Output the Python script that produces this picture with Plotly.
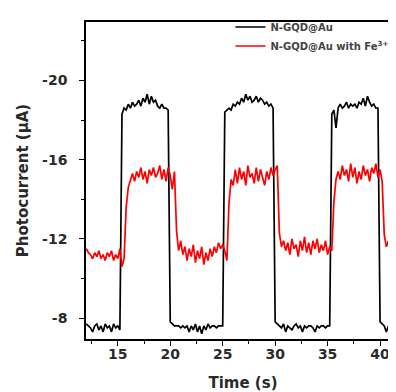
import plotly.graph_objects as go

# time grid (s), step 0.2 s from 12.0 to 41.8
time_s = [round(12.0 + 0.2 * i, 1) for i in range(150)]

# N-GQD@Au photocurrent (uA)
black_vals = (
    # 12.0 - 15.2 dark
    [-7.7, -7.6, -7.5, -7.3, -7.6, -7.7, -7.4, -7.6, -7.3, -7.7, -7.5, -7.6, -7.3, -7.7, -7.5, -7.6, -7.4]
    # 15.4 - 19.8 light on
    + [-18.3, -18.6, -18.5, -18.8, -18.6, -18.9, -18.7, -18.8, -19.0, -18.7, -19.1, -18.9, -19.3, -18.8,
       -19.2, -18.9, -19.0, -18.7, -18.6, -18.8, -18.6, -18.6, -18.5]
    # 20.0 - 25.0 dark
    + [-7.8, -7.7, -7.6, -7.6, -7.6, -7.5, -7.6, -7.5, -7.6, -7.3, -7.6, -7.4, -7.7, -7.3, -7.6, -7.2,
       -7.6, -7.4, -7.7, -7.5, -7.6, -7.6, -7.5, -7.6, -7.6, -7.6]
    # 25.2 - 29.8 light on
    + [-18.4, -18.5, -18.6, -18.5, -18.8, -18.7, -18.9, -18.8, -19.1, -18.9, -19.3, -19.0, -19.2, -18.9,
       -19.0, -19.2, -18.9, -19.1, -19.0, -18.8, -18.9, -18.7, -18.8, -18.6]
    # 30.0 - 35.2 dark
    + [-7.8, -7.7, -7.6, -7.5, -7.7, -7.3, -7.6, -7.5, -7.4, -7.6, -7.7, -7.5, -7.6, -7.3, -7.6, -7.5,
       -7.6, -7.6, -7.5, -7.3, -7.6, -7.5, -7.6, -7.6, -7.5, -7.6, -7.6]
    # 35.4 - 39.8 light on
    + [-18.3, -18.5, -17.6, -18.6, -18.8, -18.6, -18.7, -18.9, -18.6, -18.8, -18.7, -18.8, -18.6, -18.9,
       -18.8, -19.1, -18.7, -19.2, -18.9, -18.7, -18.8, -18.6, -18.6]
    # 40.0 - 41.8 dark
    + [-7.8, -7.7, -7.6, -7.3, -7.6, -7.5, -7.6, -7.5, -7.6, -7.6]
)

# N-GQD@Au with Fe3+ photocurrent (uA)
red_vals = (
    # 12.0 - 15.6 dark
    [-11.5, -11.3, -11.2, -11.0, -11.3, -11.1, -11.4, -11.0, -11.2, -10.9, -11.3, -11.1, -11.4, -10.9,
     -11.2, -11.0, -11.5, -10.6, -11.0]
    # 15.8 - 20.4 light on
    + [-13.6, -14.6, -15.0, -15.3, -14.9, -15.4, -15.1, -15.6, -15.0, -15.4, -14.8, -15.5, -15.2, -15.6,
       -15.1, -15.3, -15.7, -15.0, -15.5, -14.9, -15.6, -15.2, -14.5, -15.4]
    # 20.6 - 25.4 dark
    + [-12.4, -11.4, -11.9, -11.2, -11.6, -10.9, -11.5, -11.1, -11.7, -10.8, -11.4, -11.0, -11.6, -10.7,
       -11.3, -10.9, -11.5, -11.1, -11.6, -11.3, -11.8, -11.5, -11.7, -11.4, -10.9]
    # 25.6 - 30.2 light on
    + [-13.8, -15.0, -14.7, -15.5, -14.8, -15.6, -15.0, -15.4, -14.7, -15.7, -15.1, -15.3, -14.8, -15.6,
       -14.9, -15.5, -15.1, -14.7, -15.4, -15.0, -15.6, -15.2, -15.5, -15.7]
    # 30.4 - 35.4 dark
    + [-12.3, -11.6, -11.9, -11.4, -11.8, -11.2, -12.0, -11.5, -11.7, -11.1, -11.9, -11.4, -12.1, -11.3,
       -11.8, -11.2, -11.9, -11.5, -12.0, -11.3, -11.7, -11.4, -11.9, -11.2, -11.6, -11.4]
    # 35.6 - 40.2 light on
    + [-13.9, -15.0, -15.4, -15.0, -15.7, -15.2, -15.5, -14.9, -15.8, -15.1, -15.6, -14.8, -15.4, -15.0,
       -15.7, -15.2, -15.5, -14.9, -15.6, -15.3, -15.8, -15.1, -15.5, -14.9]
    # 40.4 - 41.8 dark
    + [-12.2, -11.6, -11.9, -11.3, -11.7, -11.4, -11.8, -11.5]
)

series_names = ["N-GQD@Au", "N-GQD@Au with Fe<sup>3+</sup>"]
x_tick_vals = [15, 20, 25, 30, 35, 40]
x_tick_text = ["15", "20", "25", "30", "35", "40"]
y_tick_vals = [-20, -16, -12, -8]
y_tick_text = ["-20", "-16", "-12", "-8"]

font_family = "'DejaVu Sans', Arial, sans-serif"
text_color = "#2a2a2a"

fig = go.Figure()
fig.add_trace(go.Scatter(x=time_s, y=black_vals, mode="lines", name=series_names[0],
                         line=dict(color="black", width=1.7)))
fig.add_trace(go.Scatter(x=time_s, y=red_vals, mode="lines", name=series_names[1],
                         line=dict(color="#ff0000", width=1.7)))

axis_common = dict(
    showline=True, mirror=True, linecolor="black", linewidth=1.6,
    ticks="outside", ticklen=5, tickwidth=1.3, tickcolor="black",
    showgrid=False, zeroline=False,
    tickfont=dict(family=font_family, size=14, color=text_color, weight="bold"),
)

fig.update_xaxes(
    range=[11.97, 41.9], tickvals=x_tick_vals, ticktext=x_tick_text,
    ticklabelstandoff=-4,
    minor=dict(ticks="outside", ticklen=3, tickwidth=1.2, tickcolor="black", dtick=2.5, tick0=12.5),
    title=dict(text="Time (s)", font=dict(family=font_family, size=15, color=text_color, weight="bold"),
               standoff=17),
    **axis_common,
)
fig.update_yaxes(
    range=[-6.94, -22.95], tickvals=y_tick_vals, ticktext=y_tick_text,
    ticklabelstandoff=9,
    minor=dict(ticks="outside", ticklen=3, tickwidth=1.2, tickcolor="black", dtick=2, tick0=-8),
    title=dict(text="Photocurrent (μA)", font=dict(family=font_family, size=15, color=text_color, weight="bold"),
               standoff=10),
    **axis_common,
)

fig.update_layout(
    width=396, height=392,
    margin=dict(l=78, r=2, t=14, b=61),
    paper_bgcolor="white", plot_bgcolor="white",
    showlegend=True,
    legend=dict(x=0.46, y=1.03, xanchor="left", yanchor="top",
                bgcolor="rgba(0,0,0,0)", borderwidth=0,
                font=dict(family=font_family, size=10, color="#444", weight="bold"),
                itemwidth=30, tracegroupgap=0),
)

fig.write_html("out.html")
